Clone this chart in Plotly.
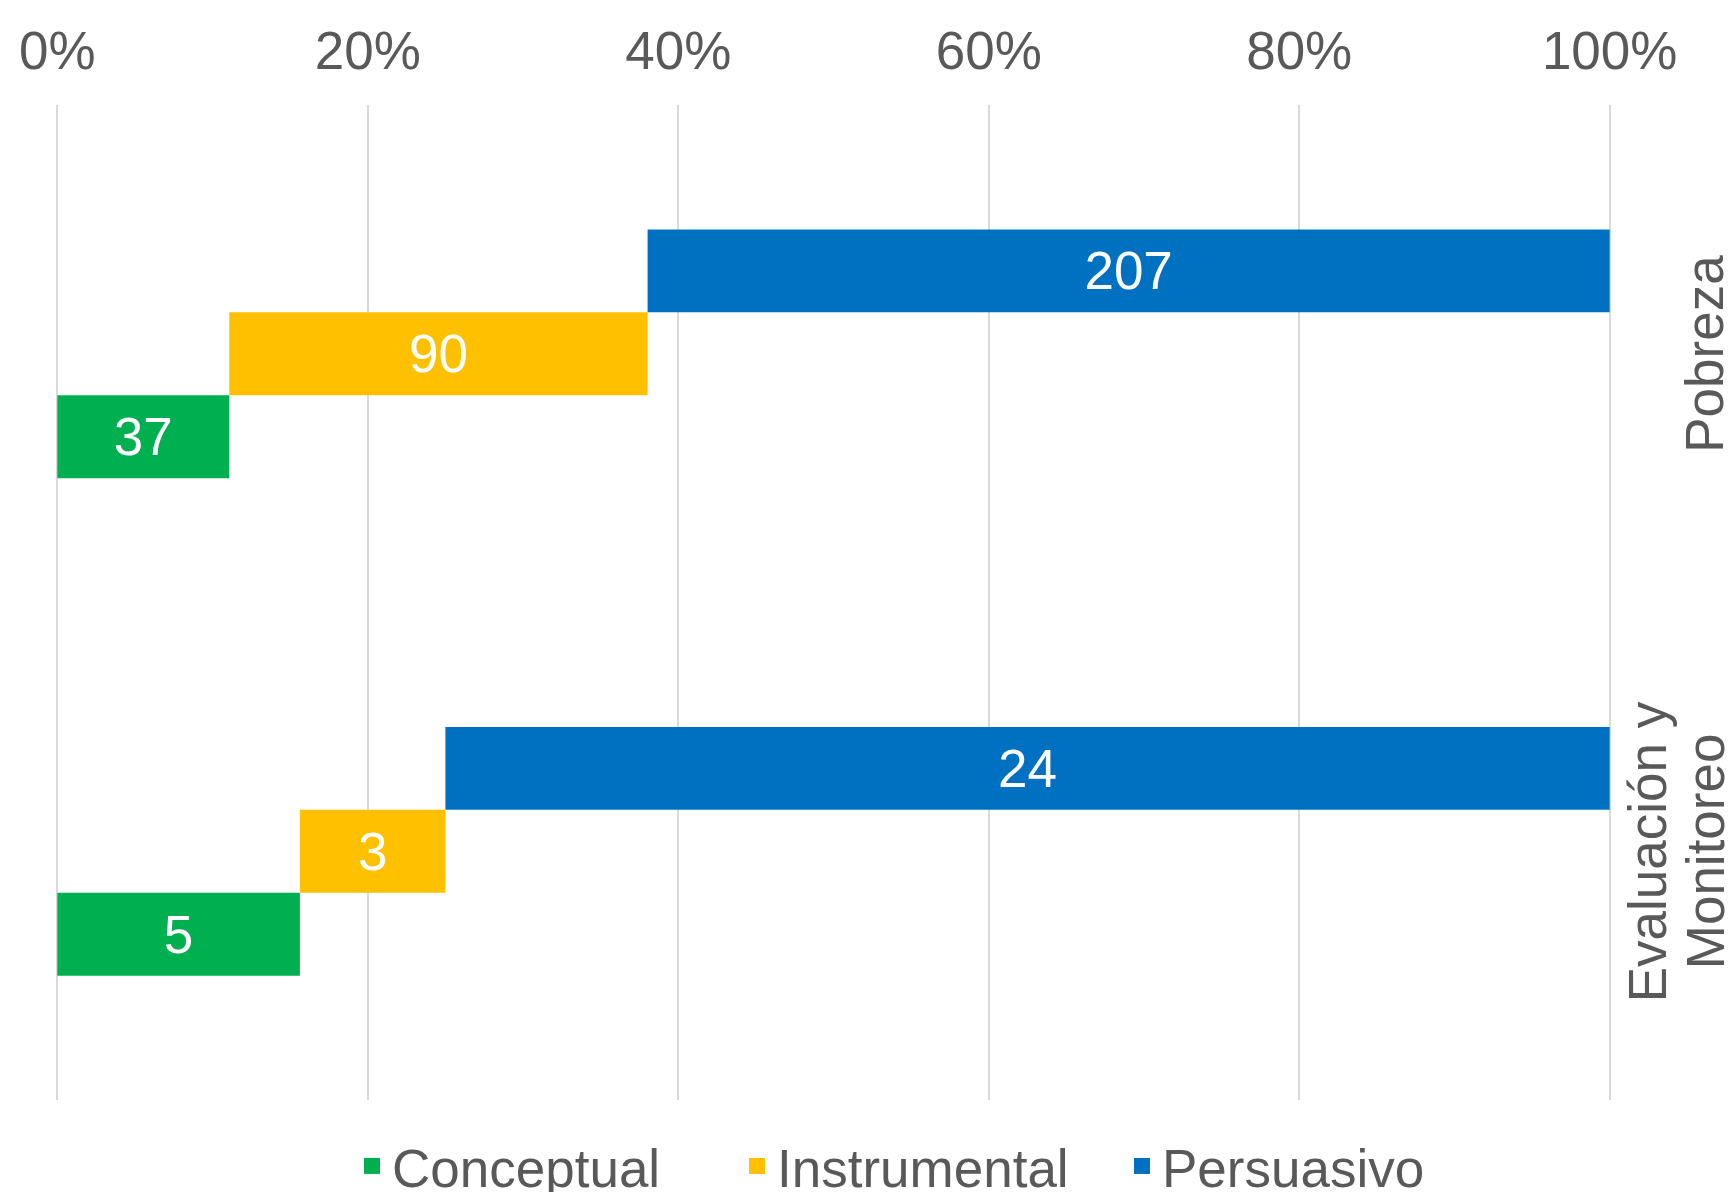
import plotly.graph_objects as go

categories = ["Evaluación y Monitoreo", "Pobreza"]
category_label_lines = [["Evaluación y", "Monitoreo"], ["Pobreza"]]
series_names = ["Conceptual", "Instrumental", "Persuasivo"]
conceptual = [5, 37]
instrumental = [3, 90]
persuasivo = [24, 207]
colors = ["#00B050", "#FFC000", "#0070C0"]
tick_vals = [0, 0.2, 0.4, 0.6, 0.8, 1.0]
tick_text = ["0%", "20%", "40%", "60%", "80%", "100%"]

series = [conceptual, instrumental, persuasivo]
totals = [sum(v) for v in zip(*series)]

# page body has an 8px margin; figure coordinates = screen - 8
OFF = 8
W, H = 1733 - 2 * OFF, 1192 - OFF
ml = 55 - OFF
mt = 105 - OFF
plot_right = 1612 - OFF
plot_bottom = 1100 - OFF
mr = W - plot_right
mb = H - plot_bottom
pw = plot_right - ml
ph = plot_bottom - mt

FONT = "Liberation Sans, Arial, sans-serif"
GRAY = "#595959"
FS = 53

fig = go.Figure()
cum = [0.0] * len(categories)
for name, vals, col in zip(series_names, series, colors):
    pct = [v / t for v, t in zip(vals, totals)]
    fig.add_trace(go.Bar(
        name=name, y=categories, x=pct, base=cum[:], orientation="h",
        marker=dict(color=col, line=dict(width=0)),
        text=[str(v) for v in vals], textposition="inside",
        insidetextanchor="middle", textangle=0, constraintext="none",
        textfont=dict(color="white", size=FS, family=FONT),
        hoverinfo="skip", showlegend=False,
    ))
    cum = [c + p for c, p in zip(cum, pct)]

# legend entries (square swatches)
for name, col in zip(series_names, colors):
    fig.add_trace(go.Scatter(
        name=name, x=[None], y=[None], mode="markers",
        marker=dict(symbol="square", size=24, color=col),
        showlegend=True, hoverinfo="skip",
    ))

annotations = []
line_x_screen = {1: [1705], 2: [1647, 1705]}
for cat, lines in zip(categories, category_label_lines):
    xs = line_x_screen[len(lines)]
    for ln, xsc in zip(lines, xs):
        annotations.append(dict(
            x=(xsc - OFF - ml) / pw, xref="paper", y=cat, yref="y", text=ln,
            textangle=-90, showarrow=False, xanchor="center", yanchor="middle",
            font=dict(size=FS, color=GRAY, family=FONT),
        ))

eps = 0.0015
fig.update_layout(
    width=W, height=H,
    margin=dict(l=ml, r=mr, t=mt, b=mb, pad=0, autoexpand=False),
    paper_bgcolor="white", plot_bgcolor="white",
    barmode="group", bargap=0.5, bargroupgap=0,
    font=dict(family=FONT, color=GRAY, size=FS),
    xaxis=dict(
        side="top", range=[-eps, 1 + eps], tickvals=tick_vals, ticktext=tick_text,
        showgrid=True, gridcolor="#D9D9D9", gridwidth=1.5,
        zeroline=False, showline=False, ticks="", ticklabelstandoff=24,
        tickfont=dict(size=FS, color=GRAY, family=FONT),
    ),
    yaxis=dict(
        categoryorder="array", categoryarray=categories,
        showticklabels=False, showgrid=False, zeroline=False, showline=False,
    ),
    legend=dict(
        orientation="h", x=(352 - OFF - ml) / pw, xanchor="left",
        yref="container", y=(H - (1166 - OFF)) / H, yanchor="middle",
        font=dict(size=FS, color=GRAY, family=FONT),
        traceorder="normal", entrywidth=340, entrywidthmode="pixels",
        itemsizing="trace", bgcolor="rgba(0,0,0,0)",
    ),
    annotations=annotations,
    showlegend=True,
)

fig.write_html("out.html")
